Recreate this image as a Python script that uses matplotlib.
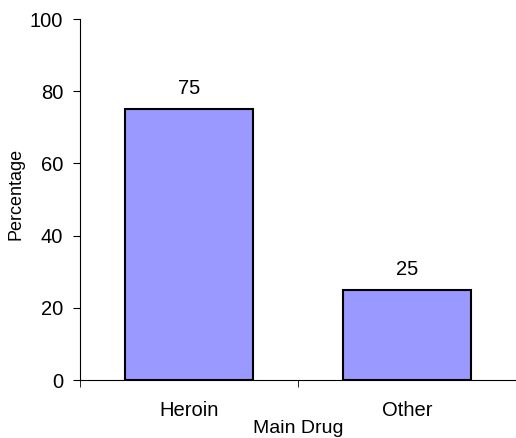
import matplotlib.pyplot as plt

categories = ['Heroin', 'Other']
values = [75, 25]

plt.rcParams['font.family'] = ['Liberation Sans', 'DejaVu Sans']

fig = plt.figure(figsize=(5.16, 4.38), dpi=100)
ax = fig.add_axes([0.155, 0.1324, 0.845, 0.8242])

x = range(len(categories))
ax.bar(x, values, width=0.59, color='#9999FF', edgecolor='black', linewidth=1.5)
for xi, v in zip(x, values):
    ax.text(xi, v + 4.2, str(v), ha='center', va='baseline', fontsize=14.5)

ax.set_xlim(-0.5, 1.5)
ax.set_ylim(0, 100)
ax.set_yticks([0, 20, 40, 60, 80, 100])
ax.set_xticks(list(x))
ax.set_xticklabels(categories)
ax.set_xticks([-0.5, 0.5, 1.5], minor=True)
ax.tick_params(axis='x', which='major', length=0, labelsize=14.5, pad=15)
ax.tick_params(axis='x', which='minor', length=5, direction='out')
ax.tick_params(axis='y', length=5, direction='out', labelsize=14.5, pad=7)
for s in ['top', 'right']:
    ax.spines[s].set_visible(False)
ax.set_xlabel('Main Drug', fontsize=14, labelpad=0)
ax.set_ylabel('Percentage', fontsize=13)
ax.yaxis.set_label_coords(-0.127, 0.515)

fig.savefig('out.png', dpi=100)
